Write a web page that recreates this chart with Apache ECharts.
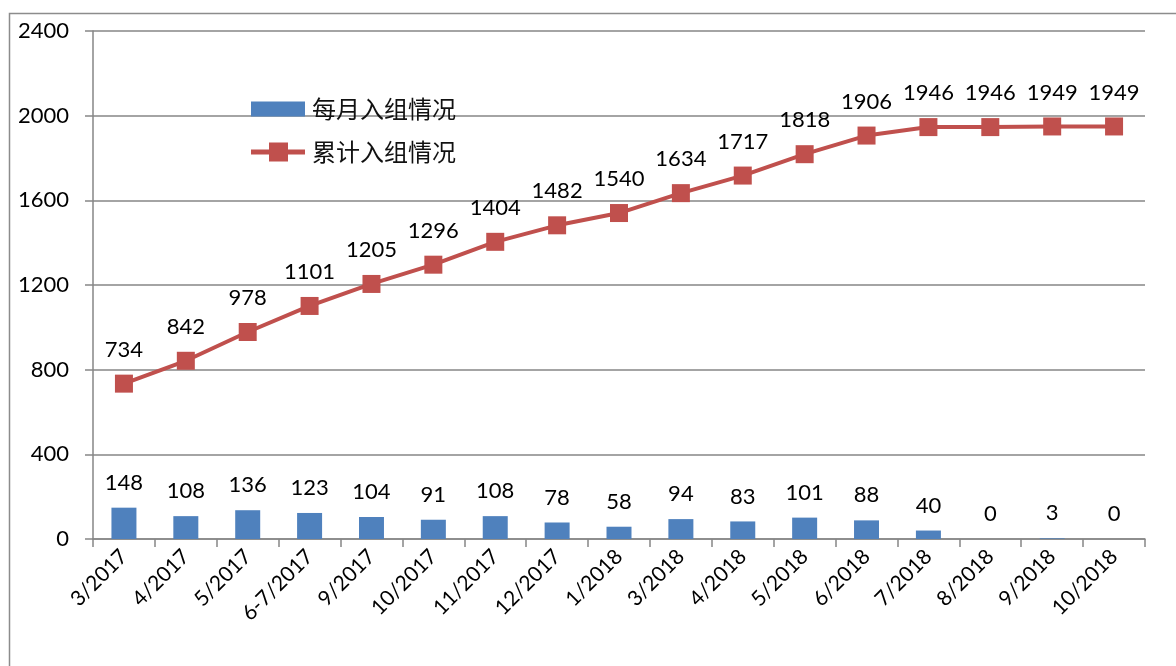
<!DOCTYPE html>
<html>
<head>
<meta charset="utf-8">
<script src="https://cdn.jsdelivr.net/npm/echarts@6/dist/echarts.min.js"></script>
<style>
html,body{margin:0;padding:0;background:#fff;}
#chart{width:1176px;height:666px;}
</style>
</head>
<body>
<div id="chart"></div>
<script>
const categories = ['3/2017','4/2017','5/2017','6-7/2017','9/2017','10/2017','11/2017','12/2017','1/2018','3/2018','4/2018','5/2018','6/2018','7/2018','8/2018','9/2018','10/2018'];
const monthly = [148,108,136,123,104,91,108,78,58,94,83,101,88,40,0,3,0];
const cumulative = [734,842,978,1101,1205,1296,1404,1482,1540,1634,1717,1818,1906,1946,1946,1949,1949];
const yTicks = {min:0, max:2400, interval:400};
const seriesNames = ['每月入组情况','累计入组情况'];

const chart = echarts.init(document.getElementById('chart'), null, {renderer:'canvas'});
const numFont = 'Lato, "Open Sans", sans-serif';
chart.setOption({
  animation:false,
  backgroundColor:'#fff',
  graphic:[{type:'rect', shape:{x:9.5,y:13.5,width:1200,height:700}, style:{fill:'none',stroke:'#8c8c8c',lineWidth:1.5}, z:-1}],
  grid:{left:93, right:31, top:31, bottom:127},
  legend:{
    left:246, top:92, orient:'vertical', itemGap:19,
    itemWidth:54, itemHeight:19,
    textStyle:{fontFamily:'"Noto Sans CJK SC"', fontSize:24, color:'#111', padding:[0,0,0,2]},
    data:[
      {name:seriesNames[0], icon:'path://M0,3L54,3L54,18L0,18Z'},
      {name:seriesNames[1], icon:'path://M0,7L18,7L18,0L37,0L37,7L54,7L54,12L37,12L37,19L18,19L18,12L0,12Z'}
    ]
  },
  xAxis:{
    type:'category', data:categories, boundaryGap:true,
    axisLine:{lineStyle:{color:'#868686',width:1.5}},
    axisTick:{show:true, length:8, lineStyle:{color:'#868686',width:1.5}},
    axisLabel:{rotate:45, fontFamily:numFont, fontSize:21, color:'#000', margin:14, interval:0}
  },
  yAxis:{
    type:'value', min:yTicks.min, max:yTicks.max, interval:yTicks.interval,
    axisLine:{show:true, lineStyle:{color:'#868686',width:1.5}},
    axisTick:{show:true, length:8, lineStyle:{color:'#868686',width:1.5}},
    splitLine:{lineStyle:{color:'#868686',width:1.5}},
    axisLabel:{fontFamily:numFont, fontSize:22, color:'#000', margin:24, formatter:function(v){return String(v);}}
  },
  series:[
    {name:seriesNames[0], type:'bar', data:monthly, barWidth:25,
     itemStyle:{color:'#4F81BD'},
     label:{show:true, position:'top', distance:14, fontFamily:numFont, fontSize:22, color:'#000'}},
    {name:seriesNames[1], type:'line', data:cumulative,
     lineStyle:{color:'#C0504D', width:4},
     itemStyle:{color:'#C0504D'},
     symbol:'rect', symbolSize:18,
     label:{show:true, position:'top', distance:14, fontFamily:numFont, fontSize:22, color:'#000'}}
  ]
});
</script>
</body>
</html>
